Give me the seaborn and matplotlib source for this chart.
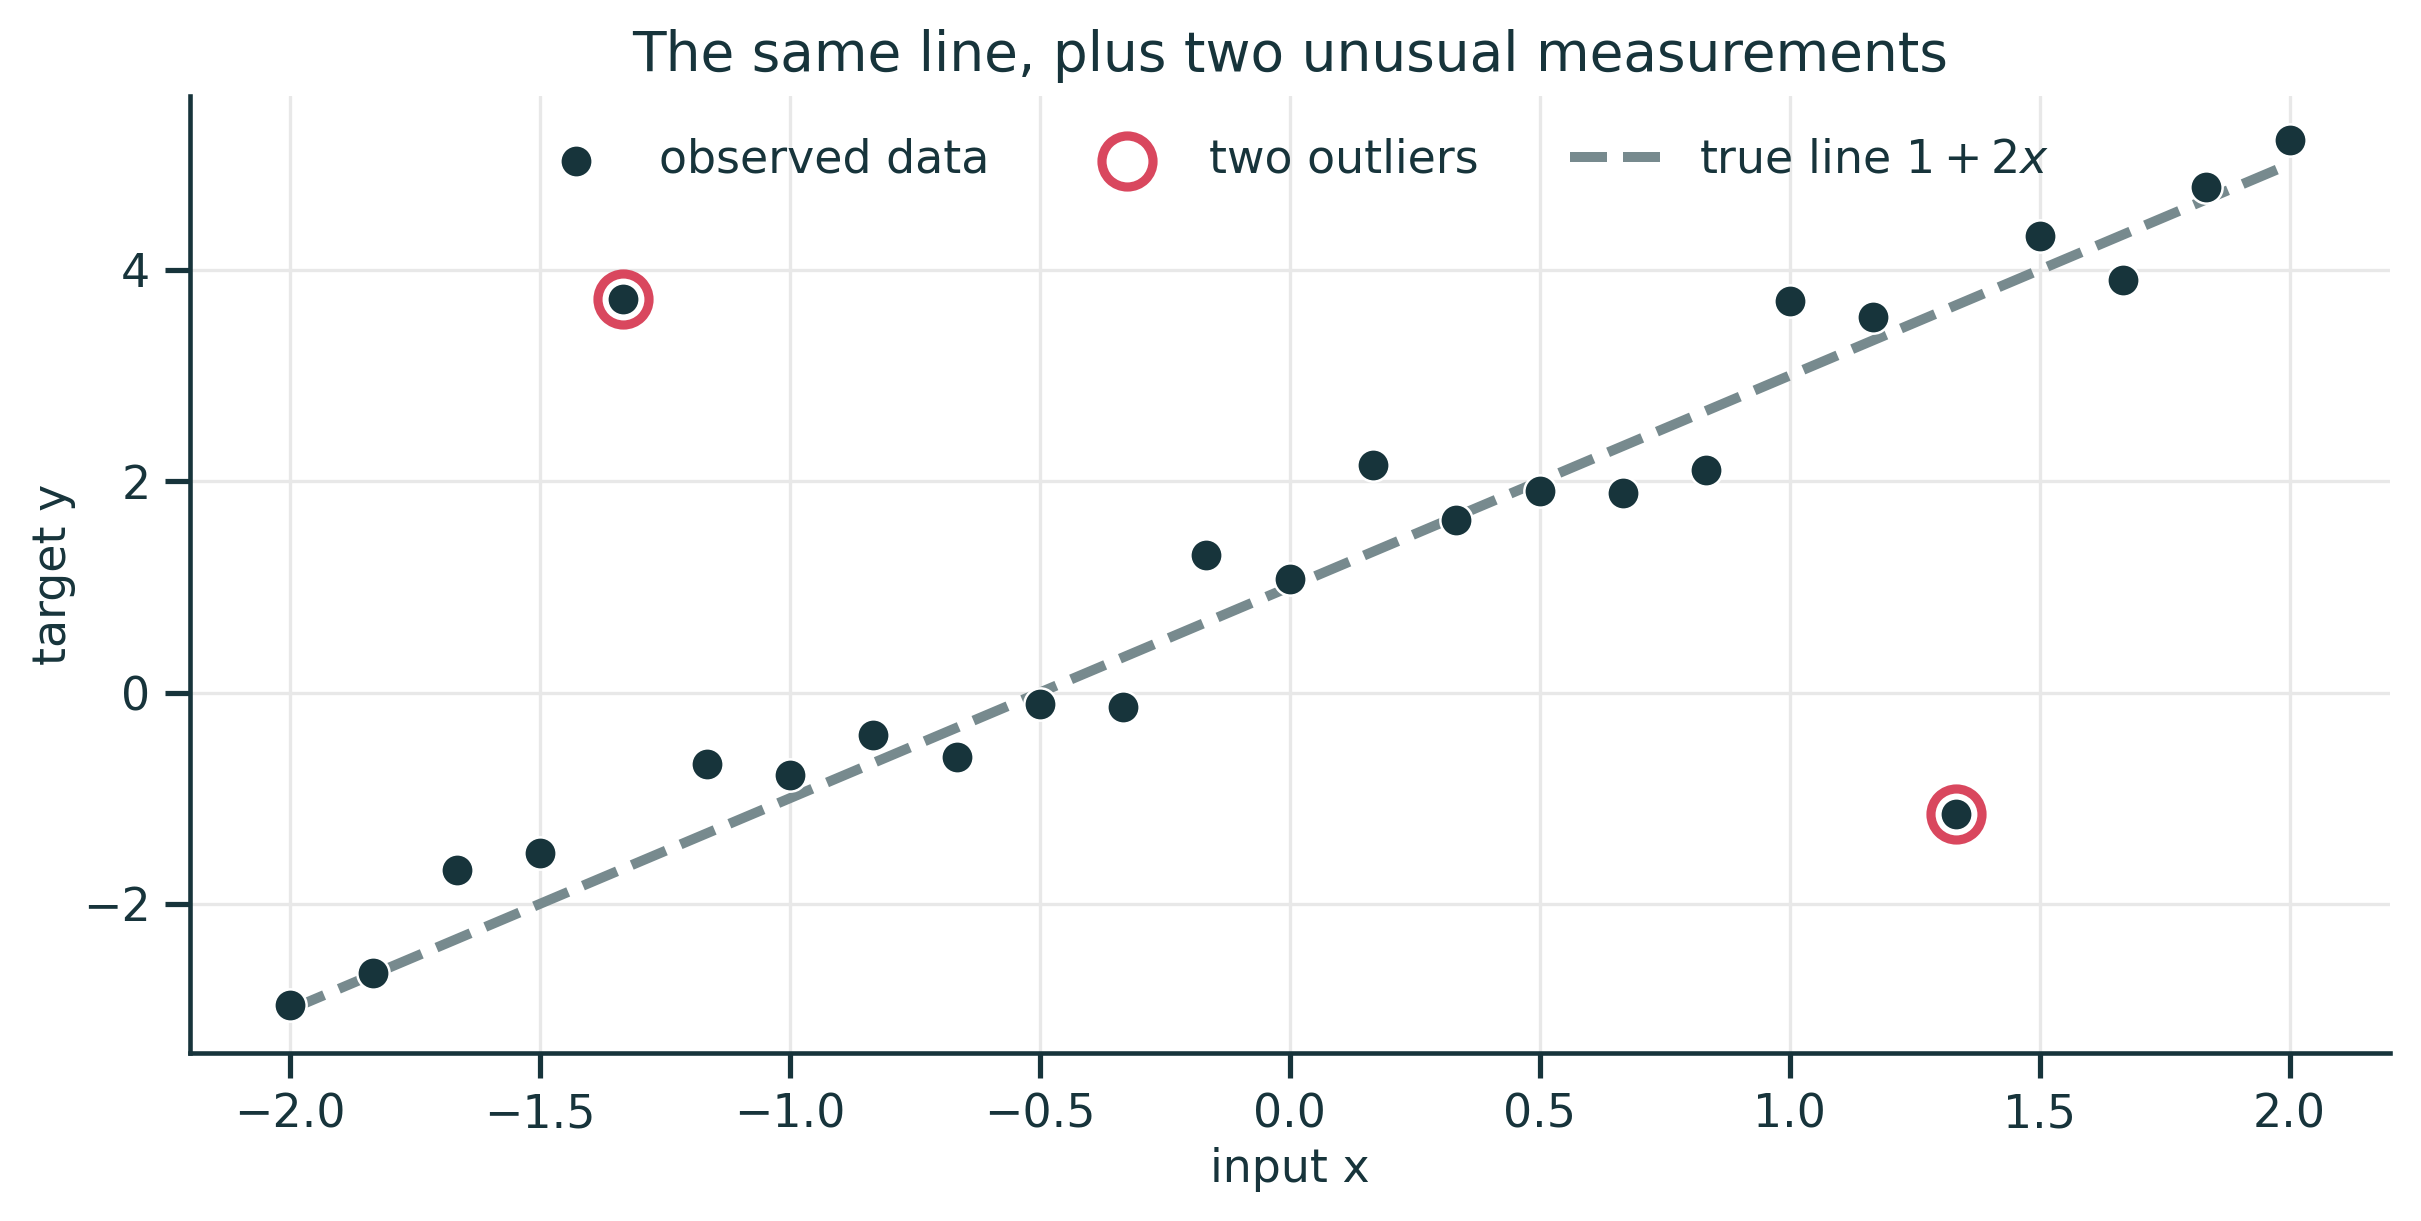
import numpy as np
import pandas as pd
import seaborn as sns
import matplotlib.pyplot as plt

# Data
x_obs = np.linspace(-2, 2, 25)
y_obs = [-2.96, -2.65, -1.68, -1.52, 3.72, -0.68, -0.78, -0.40, -0.61, -0.11,
         -0.14, 1.30, 1.07, 2.15, 1.63, 1.91, 1.89, 2.11, 3.71, 3.55,
         -1.15, 4.32, 3.90, 4.78, 5.23]
outlier_idx = [4, 20]
line_x = [-2.0, 2.0]
line_y = [1 + 2 * v for v in line_x]

dark = "#17343b"
red = "#d9475e"
grey = "#778a8e"

sns.set_theme(style="ticks", context="notebook")
plt.rcParams.update({
    "text.color": dark,
    "axes.labelcolor": dark,
    "axes.edgecolor": dark,
    "xtick.color": dark,
    "ytick.color": dark,
    "font.family": ["DejaVu Sans"],
})

df = pd.DataFrame({"x": x_obs, "y": y_obs})
df_out = df.iloc[outlier_idx]
df_line = pd.DataFrame({"x": line_x, "y": line_y})

fig, ax = plt.subplots(figsize=(2421 / 300, 1221 / 300), dpi=300)
fig.subplots_adjust(left=0.0785, right=0.987, top=0.921, bottom=0.1376)

sns.scatterplot(data=df_out, x="x", y="y", ax=ax, s=150, facecolor="white",
                edgecolor=red, linewidth=2.2, label="two outliers", zorder=2)
sns.scatterplot(data=df, x="x", y="y", ax=ax, s=60, color=dark,
                edgecolor="white", linewidth=0.6, label="observed data", zorder=3)
sns.lineplot(data=df_line, x="x", y="y", ax=ax, color=grey, lw=2.4,
             linestyle="--", label="true line $1 + 2x$", zorder=1)

ax.grid(True, color="#e8e8e8", linewidth=0.8)
ax.set_axisbelow(True)
sns.despine(ax=ax)
for s in ["left", "bottom"]:
    ax.spines[s].set_linewidth(1.1)

ax.set_title("The same line, plus two unusual measurements", fontsize=13.2)
ax.set_xlabel("input x", fontsize=11, labelpad=2.2)
ax.set_ylabel("target y", fontsize=11, labelpad=1.6)
ax.tick_params(labelsize=11)
ax.set_yticks([-2, 0, 2, 4])

handles, labels = ax.get_legend_handles_labels()
order = [labels.index("observed data"), labels.index("two outliers"),
         labels.index("true line $1 + 2x$")]
ax.legend([handles[i] for i in order], [labels[i] for i in order],
          loc="upper center", ncol=3, frameon=False, fontsize=11,
          columnspacing=2.0, handletextpad=0.8, bbox_to_anchor=(0.5, 1.0))

fig.savefig("out.png", dpi=300)
